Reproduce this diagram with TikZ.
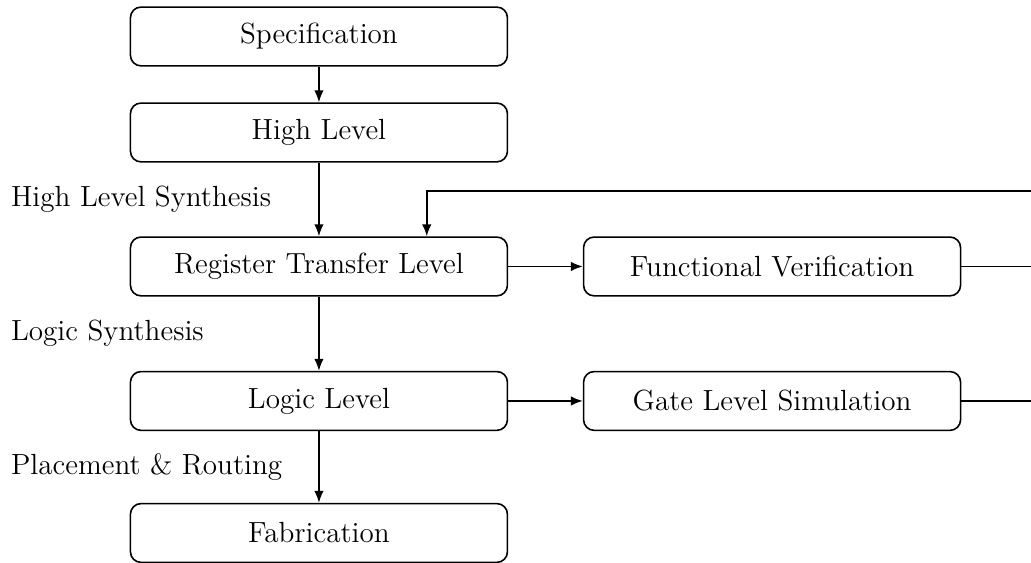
\documentclass[tikz,border=0pt]{standalone}
\usetikzlibrary{arrows.meta}
\begin{document}
\begin{tikzpicture}[x=1cm,y=1cm,
  every node/.style={font=\fontsize{11}{13}\selectfont},
  stage/.style={draw, rounded corners=4pt, minimum width=5cm, minimum height=0.78cm, semithick},
  flow/.style={-{Latex[length=4.5pt,width=3.6pt]}, semithick},
  link/.style={semithick},
  phase/.style={anchor=west, inner sep=0pt}]
\useasboundingbox (0,0) rectangle (13.674,-7.467);
\clip (0,0) rectangle (13.674,-7.467);

% design flow stages
\node[stage] (spec)  at (4.23,-0.484) {Specification};
\node[stage] (hl)    at (4.23,-1.757) {High Level};
\node[stage] (rtl)   at (4.23,-3.534) {Register Transfer Level};
\node[stage] (logic) at (4.23,-5.318) {Logic Level};
\node[stage] (fab)   at (4.23,-7.069) {Fabrication};

% verification stages
\node[stage] (fv)  at (10.24,-3.534) {Functional Verification};
\node[stage] (gls) at (10.24,-5.318) {Gate Level Simulation};

% transformation steps
\node[phase] (hls) at (0.14,-2.639) {High Level Synthesis};
\node[phase] (ls)  at (0.14,-4.416) {Logic Synthesis};
\node[phase] (pr)  at (0.14,-6.194) {Placement \& Routing};

% main flow
\draw[flow] (spec) -- (hl);
\draw[flow] (hl) -- (rtl);
\draw[flow] (rtl) -- (logic);
\draw[flow] (logic) -- (fab);
\draw[flow] (rtl) -- (fv);
\draw[flow] (logic) -- (gls);

% feedback loop back to RTL
\coordinate (loop) at (14.2,-2.533);
\coordinate (entry) at (5.66,-2.533);
\draw[link] (fv.east) -| (loop);
\draw[link] (gls.east) -| (loop);
\draw[flow] (loop) -- (entry) -- (entry |- rtl.north);
\end{tikzpicture}
\end{document}
